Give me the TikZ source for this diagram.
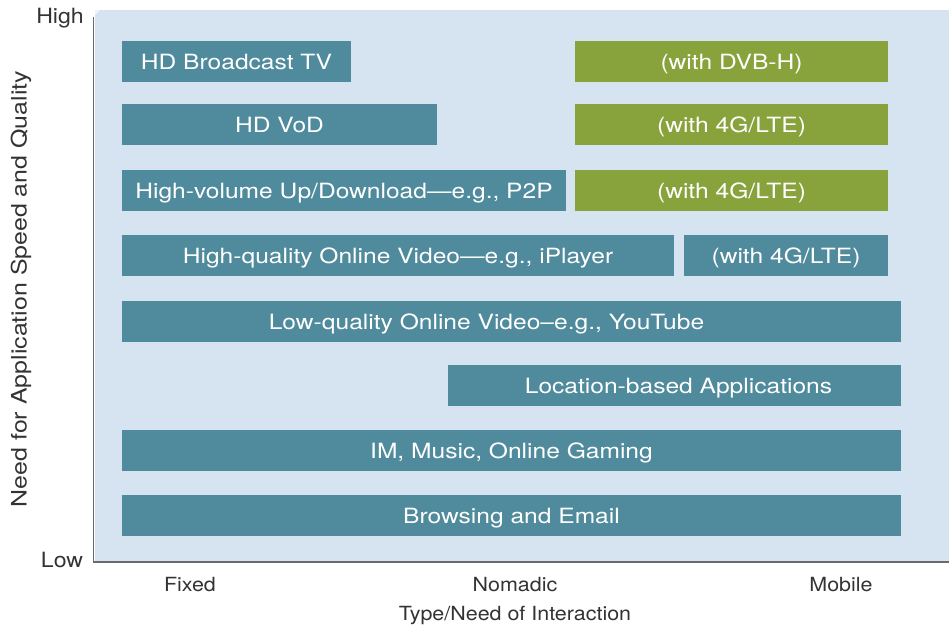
\documentclass[tikz,border=0pt]{standalone}
\usepackage{fontspec}
\setmainfont{TeX Gyre Heros}
\newfontfamily\barfont[FakeStretch=1.17,Ligatures=TeX]{TeX Gyre Heros}
\newfontfamily\axfont[FakeStretch=1.1,Ligatures=TeX]{TeX Gyre Heros}
\definecolor{panel}{HTML}{D6E3F0}
\definecolor{teal}{HTML}{4F8B9C}
\definecolor{olive}{HTML}{88A23C}
\definecolor{axis}{HTML}{6A6A6A}
\definecolor{txt}{HTML}{333333}
\tikzset{
  bar/.style={fill=teal, text=white, inner sep=0pt, minimum height=41pt, text height=16.5pt, text depth=0pt, font=\barfont\fontsize{21}{24}\selectfont},
  gbar/.style={bar, fill=olive},
  axlab/.style={text=txt, inner sep=0pt, font=\axfont\fontsize{19.5}{22}\selectfont},
  endlab/.style={text=txt, inner sep=0pt, font=\axfont\fontsize{21}{24}\selectfont},
  ytitle/.style={text=txt, inner sep=0pt, rotate=90, font=\barfont\fontsize{21.3}{24}\selectfont}
}
\begin{document}
\begin{tikzpicture}[x=1pt,y=-1pt]
\useasboundingbox (0,0) rectangle (949,629);
\fill[panel] (95,10) rectangle (949,562);
\fill[white!60!panel] (95,10) -- (100,10) -- (95,15) -- cycle;
\draw[axis, line width=1.5pt] (93.5,17) -- (93.5,562) -- (949,562);
% bars
\node[bar, minimum width=229pt] (b1) at (236.5,61.5) {HD Broadcast TV};
\node[gbar, minimum width=313pt] (g1) at (731.5,61.5) {(with DVB-H)};
\node[bar, minimum width=315pt] (b2) at (279.5,124.5) {HD VoD};
\node[gbar, minimum width=313pt] (g2) at (731.5,124.5) {(with 4G/LTE)};
\node[bar, minimum width=444pt] (b3) at (344,190.5) {High-volume Up/Download—e.g., P2P};
\node[gbar, minimum width=313pt] (g3) at (731.5,190.5) {(with 4G/LTE)};
\node[bar, minimum width=552pt] (b4) at (398,255.5) {High-quality Online Video—e.g., iPlayer};
\node[bar, minimum width=204pt] (b4b) at (786,255.5) {(with 4G/LTE)};
\node[bar, minimum width=779pt] (b5) at (511.5,321) {Low-quality Online Video–e.g., YouTube\hspace*{50pt}};
\node[bar, minimum width=453pt] (b6) at (674.5,385.5) {\hspace*{8pt}Location-based Applications};
\node[bar, minimum width=779pt] (b7) at (511.5,450.5) {IM, Music, Online Gaming};
\node[bar, minimum width=779pt] (b8) at (511.5,515.5) {Browsing and Email};
% axis labels
\node[endlab] (hi) at (60,18) {High};
\node[endlab] (lo) at (62,560) {Low};
\node[axlab] (fx) at (190,585) {Fixed};
\node[axlab] (nm) at (515,585) {Nomadic};
\node[axlab] (mb) at (841,585) {Mobile};
\node[axlab] (xt) at (515,615) {Type/Need of Interaction};
\node[ytitle] (yt) at (21,289) {Need for Application Speed and Quality};
\end{tikzpicture}
\end{document}
